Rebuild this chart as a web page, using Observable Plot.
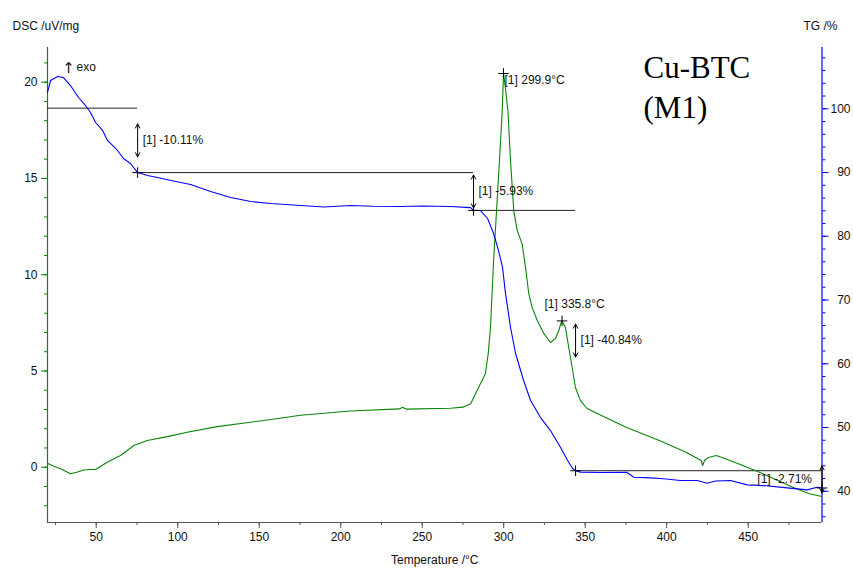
<!DOCTYPE html>
<html>
<head>
<meta charset="utf-8">
<script src="https://cdn.jsdelivr.net/npm/d3@7"></script>
<script src="https://cdn.jsdelivr.net/npm/@observablehq/plot@0.6"></script>
<style>
  html, body { margin: 0; padding: 0; background: #fff; }
  #chart svg { display: block; }
</style>
</head>
<body>
<div id="chart"></div>
<script>
// DSC signal (uV/mg) against temperature (°C)
const dscTemp = [20.1, 20.6, 24.0, 28.1, 34.2, 38.0, 42.4, 46.0, 49.6, 56.7, 64.9, 73.1, 81.3, 93.6, 105.8, 124.2, 152.8, 175.4, 206.1, 236.0, 238.0, 240.0, 267.4, 275.0, 279.7, 282.7, 285.5, 288.8, 290.5, 291.9, 293.8, 295.6, 297.4, 299.1, 299.9, 300.9, 302.6, 304.2, 306.2, 308.3, 311.3, 313.4, 315.4, 317.5, 320.6, 324.6, 328.7, 331.8, 333.8, 335.0, 335.8, 337.9, 339.9, 342.0, 344.0, 347.1, 351.2, 357.4, 375.1, 395.5, 411.9, 421.1, 422.1, 423.2, 425.2, 430.3, 434.4, 446.7, 456.9, 467.2, 477.4, 487.6, 495.3];
const dscValue = [0.24, 0.18, 0.05, -0.08, -0.34, -0.26, -0.14, -0.12, -0.12, 0.26, 0.61, 1.13, 1.39, 1.59, 1.82, 2.11, 2.43, 2.70, 2.92, 3.03, 3.12, 3.02, 3.06, 3.12, 3.30, 3.82, 4.30, 4.87, 5.90, 7.26, 10.74, 13.30, 15.92, 18.50, 20.45, 19.80, 18.50, 15.90, 13.30, 12.30, 11.60, 10.38, 9.00, 8.29, 7.62, 6.95, 6.48, 6.69, 7.10, 7.45, 7.60, 7.26, 6.22, 5.18, 4.14, 3.46, 3.05, 2.79, 2.08, 1.39, 0.78, 0.35, 0.09, 0.35, 0.49, 0.61, 0.49, 0.09, -0.26, -0.65, -1.04, -1.38, -1.52];

// TG mass (%) against temperature (°C)
const tgTemp = [20.1, 22.0, 26.3, 29.9, 34.2, 39.1, 43.4, 46.5, 49.6, 53.9, 56.9, 63.1, 66.7, 71.0, 75.4, 81.5, 87.6, 98.7, 107.9, 120.2, 132.5, 144.8, 157.1, 175.4, 190.0, 206.1, 220.0, 236.8, 250.0, 267.4, 279.7, 281.5, 285.8, 290.1, 293.8, 296.8, 299.3, 301.1, 304.2, 307.3, 312.2, 316.5, 322.6, 328.7, 334.9, 339.2, 342.3, 344.1, 347.1, 360.0, 375.5, 379.8, 390.0, 398.2, 408.4, 418.7, 424.8, 430.0, 439.2, 449.4, 459.6, 473.9, 486.2, 492.3, 495.3];
const tgValue = [102.56, 104.44, 105.06, 104.90, 103.65, 101.77, 100.52, 99.42, 97.85, 96.60, 95.03, 93.46, 92.20, 91.42, 90.00, 89.54, 89.23, 88.60, 88.13, 87.03, 86.08, 85.45, 85.14, 84.83, 84.60, 84.83, 84.70, 84.67, 84.75, 84.67, 84.50, 84.06, 84.04, 82.79, 80.44, 77.78, 75.12, 71.04, 65.69, 61.61, 57.37, 54.24, 51.56, 49.52, 46.86, 44.82, 43.56, 43.22, 43.00, 42.95, 42.98, 42.20, 42.10, 41.95, 41.68, 41.68, 41.26, 41.60, 41.68, 41.00, 40.89, 40.53, 40.22, 40.63, 40.51];

// Mass-loss steps: boundaries (°C) and losses (%)
const stepTemp = [20.1, 75.4, 281.5, 344.1, 495.3];
const stepLoss = [10.11, 5.93, 40.84, 2.71];
const tgStartLevel = 100.1;

// DSC peak temperatures (°C)
const peakTemp = [299.9, 335.8];

// Axis ticks
const tempTicks = [50, 100, 150, 200, 250, 300, 350, 400, 450];
const dscTicks = [0, 5, 10, 15, 20];
const tgTicks = [40, 50, 60, 70, 80, 90, 100];

const sampleName = ["Cu-BTC", "(M1)"];

// Scales: TG is drawn on the DSC scale through a linear map
const xDomain = [20.1, 495.3];
const yDomain = [-2.87, 21.8];
const tgToDsc = tg => -1.247 + (tg - 40) * 0.33106;
const dscToTg = d => 40 + (d + 1.247) / 0.33106;

const W = 853, H = 571;
const M = {left: 47, right: 31.5, top: 47, bottom: 49};
const pxToDsc = (yDomain[1] - yDomain[0]) / (H - M.top - M.bottom);

const GREEN = "#0a850a";
const BLUE = "#0000ff";
const AXIS = "#555";
const INK = "#111";
const FONT = "Liberation Sans, Arial, sans-serif";

const dsc = dscTemp.map((t, i) => ({t, v: dscValue[i]}));
const tg = tgTemp.map((t, i) => ({t, v: tgValue[i]}));

// Level of each plateau
const levels = [tgStartLevel];
stepLoss.forEach(l => levels.push(levels[levels.length - 1] - l));

const plateaus = levels.slice(0, 4).map((lv, i) => ({x1: stepTemp[i], x2: stepTemp[i + 1], tg: lv}));
const stepMarks = stepTemp.slice(1).map((t, i) => ({t, tg: levels[i + 1]}));
const stepArrows = stepLoss.map((loss, i) => ({
  t: stepTemp[i + 1],
  mid: tgToDsc((levels[i] + levels[i + 1]) / 2),
  half: (i === 3 ? 13.5 : 16.5) * pxToDsc,
  label: `[1] -${loss.toFixed(2)}%`,
  right: i === 3
}));
// each double-headed arrow is two heads pointing away from its middle
const arrowHalves = stepArrows.flatMap(d => [
  {t: d.t, from: d.mid, to: d.mid + d.half},
  {t: d.t, from: d.mid, to: d.mid - d.half}
]);
const peaks = peakTemp.map(t => ({t, v: dscValue[dscTemp.indexOf(t)], label: `[1] ${t.toFixed(1)}°C`}));

const tgMinor = d3.range(36, 110, 2).filter(v => { const d = tgToDsc(v); return d >= yDomain[0] && d <= yDomain[1]; });

const chart = Plot.plot({
  width: W,
  height: H,
  marginLeft: M.left,
  marginRight: M.right,
  marginTop: M.top,
  marginBottom: M.bottom,
  style: {fontFamily: FONT, fontSize: "12px", background: "#fff", color: INK, overflow: "visible"},
  x: {domain: xDomain},
  y: {domain: yDomain},
  marks: [
    // axes
    Plot.axisX(d3.range(25, 500, 25), {anchor: "bottom", tickSize: 3, tickFormat: () => "", stroke: AXIS, label: null}),
    Plot.axisX(tempTicks, {anchor: "bottom", tickSize: 6, tickPadding: 4, stroke: AXIS, fill: INK, fontSize: 12, label: null}),
    Plot.axisY(d3.range(-2, 22, 1), {anchor: "left", tickSize: 3, tickFormat: () => "", stroke: GREEN, label: null}),
    Plot.axisY(dscTicks, {anchor: "left", tickSize: 6, tickPadding: 4, stroke: GREEN, fill: INK, fontSize: 12, label: null}),
    Plot.axisY(tgMinor.map(tgToDsc), {anchor: "right", tickSize: 3, tickFormat: () => "", stroke: BLUE, label: null}),
    Plot.axisY(tgTicks.map(tgToDsc), {anchor: "right", tickSize: 6, tickPadding: 22.5, textAnchor: "end",
      tickFormat: d => Math.round(dscToTg(d)), stroke: BLUE, fill: INK, fontSize: 12, label: null}),
    Plot.ruleY([yDomain[0]], {stroke: AXIS}),
    Plot.ruleX([xDomain[0]], {stroke: GREEN, strokeWidth: 1.2}),
    Plot.ruleX([xDomain[1]], {stroke: BLUE, strokeWidth: 1.2}),

    // plateau levels of the TG curve
    Plot.ruleY(plateaus, {y: d => tgToDsc(d.tg), x1: "x1", x2: "x2", stroke: "#222", strokeWidth: 1}),

    // curves
    Plot.line(dsc, {x: "t", y: "v", stroke: GREEN, strokeWidth: 1.1}),
    Plot.line(tg, {x: "t", y: d => tgToDsc(d.v), stroke: BLUE, strokeWidth: 1.1}),

    // step markers and mass-loss arrows
    Plot.dot(stepMarks, {x: "t", y: d => tgToDsc(d.tg), symbol: "plus", r: 3.5, stroke: "#000", strokeWidth: 1}),
    Plot.arrow(arrowHalves, {x1: "t", x2: "t", y1: "from", y2: "to", stroke: "#000", strokeWidth: 1,
      headLength: 7, headAngle: 55}),
    Plot.text(stepArrows.filter(d => !d.right), {x: "t", y: "mid", text: "label", dx: 5, textAnchor: "start", fontSize: 12, fill: INK}),
    Plot.text(stepArrows.filter(d => d.right), {x: "t", y: "mid", text: "label", dx: -10, textAnchor: "end", fontSize: 12, fill: INK}),

    // DSC peaks
    Plot.dot(peaks, {x: "t", y: "v", symbol: "plus", r: 3.5, stroke: "#000", strokeWidth: 1}),
    Plot.text(peaks.slice(0, 1), {x: "t", y: "v", text: "label", dx: 1, dy: 7, textAnchor: "start", fontSize: 12, fill: INK}),
    Plot.text(peaks.slice(1), {x: "t", y: "v", text: "label", dx: -17.5, dy: -16.5, textAnchor: "start", fontSize: 12, fill: INK}),

    // titles
    Plot.text(["DSC /uV/mg"], {text: d => d, frameAnchor: "top-left", dx: -35, dy: -26.3, textAnchor: "start", fontSize: 12, fill: INK}),
    Plot.text(["TG /%"], {text: d => d, frameAnchor: "top-right", dx: -18.5, dy: -26.3, textAnchor: "start", fontSize: 12, fill: INK}),
    Plot.text(["Temperature /°C"], {text: d => d, frameAnchor: "bottom", dy: 41, fontSize: 12, fill: INK}),
    Plot.text(["\u2191"], {text: d => d, frameAnchor: "top-left", dx: 21, dy: 15, textAnchor: "middle", fontSize: 15, fontFamily: "DejaVu Sans", fill: INK}),
    Plot.text(["exo"], {text: d => d, frameAnchor: "top-left", dx: 29, dy: 14.5, textAnchor: "start", fontSize: 12, fill: INK}),
    Plot.text([sampleName.join("\n")], {text: d => d, frameAnchor: "top-left", dx: 596, dy: 2, lineAnchor: "top",
      textAnchor: "start", fontFamily: "Liberation Serif, Times New Roman, serif", fontSize: 31, lineHeight: 1.29, fill: "#000"})
  ]
});

document.getElementById("chart").appendChild(chart);
</script>
</body>
</html>
